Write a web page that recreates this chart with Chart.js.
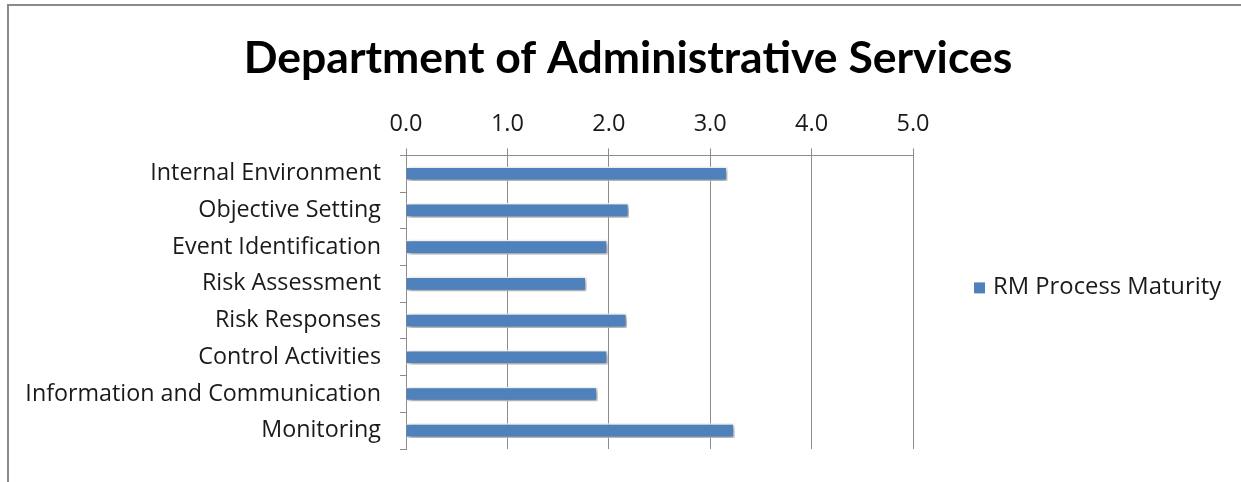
<!DOCTYPE html>
<html>
<head>
<meta charset="utf-8">
<title>Department of Administrative Services</title>
<script src="https://cdn.jsdelivr.net/npm/chart.js@4/dist/chart.umd.min.js"></script>
<style>
  html, body { margin: 0; padding: 0; background: #fff; }
  #wrap { position: relative; width: 1241px; height: 482px; overflow: hidden; }
  #frame {
    position: absolute; left: 7px; top: 4px; right: -4px; bottom: -4px;
    border-top: 2px solid #8a8a8a; border-left: 2px solid #8a8a8a;
    pointer-events: none;
  }
  canvas { position: absolute; left: 0; top: 0; }
</style>
</head>
<body>
<div id="wrap">
  <canvas id="chartMaturity" width="1241" height="482"></canvas>
  <div id="frame"></div>
</div>
<script>
// RM process maturity scores per ERM component
const categories = [
  'Internal Environment',
  'Objective Setting',
  'Event Identification',
  'Risk Assessment',
  'Risk Responses',
  'Control Activities',
  'Information and Communication',
  'Monitoring'
];
const maturity = [3.17, 2.20, 1.99, 1.78, 2.18, 1.99, 1.89, 3.24];
const seriesName = 'RM Process Maturity';
const tickValues = [0, 1, 2, 3, 4, 5];

const BAR_BLUE = '#4f81bd';
const GRID_GRAY = '#8c8c8c';
const TEXT = '#1a1a1a';
const FONT = "'Open Sans', sans-serif";

// soft drop shadow under the bars
const barShadow = {
  id: 'barShadow',
  beforeDatasetsDraw(chart) {
    const ctx = chart.ctx;
    ctx.save();
    ctx.shadowColor = 'rgba(0, 0, 0, 0.45)';
    ctx.shadowBlur = 5;
    ctx.shadowOffsetX = 2;
    ctx.shadowOffsetY = 2;
  },
  afterDatasetsDraw(chart) {
    chart.ctx.restore();
  }
};

// legend drawn in the empty band right of the plot
const sideLegend = {
  id: 'sideLegend',
  afterDraw(chart) {
    const ctx = chart.ctx;
    const ds = chart.data.datasets[0];
    const x = chart.chartArea.right + 61;
    const y = chart.chartArea.top + 132;
    ctx.save();
    ctx.fillStyle = ds.backgroundColor;
    ctx.fillRect(x, y - 5, 11, 11);
    ctx.fillStyle = TEXT;
    ctx.font = '23.8px ' + FONT;
    ctx.textBaseline = 'middle';
    ctx.fillText(ds.label, x + 19, y);
    ctx.restore();
  }
};

new Chart(document.getElementById('chartMaturity'), {
  type: 'bar',
  data: {
    labels: categories,
    datasets: [{
      label: seriesName,
      data: maturity,
      backgroundColor: BAR_BLUE,
      borderColor: '#ffffff',
      borderWidth: 1.5,
      barPercentage: 0.4,
      categoryPercentage: 1
    }]
  },
  options: {
    indexAxis: 'y',
    responsive: false,
    animation: false,
    layout: { padding: { left: 16, right: 1, top: 0, bottom: 26 } },
    plugins: {
      legend: { display: false },
      tooltip: { enabled: false },
      title: {
        display: true,
        text: 'Department of Administrative Services',
        color: '#000',
        font: { family: 'Lato', size: 44.5, weight: 'bold' },
        padding: { top: 32, bottom: 6 }
      }
    },
    scales: {
      x: {
        position: 'top',
        min: 0,
        max: 5,
        afterBuildTicks(scale) {
          scale.ticks = tickValues.map(v => ({ value: v }));
        },
        afterFit(scale) { scale.height = 64; },
        ticks: {
          color: TEXT,
          font: { family: FONT, size: 23.5 },
          padding: 10,
          callback: v => Number(v).toFixed(1)
        },
        grid: { color: GRID_GRAY, lineWidth: 1, tickLength: 7 },
        border: { color: GRID_GRAY, width: 1 }
      },
      y: {
        afterFit(scale) { scale.width = 390; },
        ticks: {
          color: TEXT,
          font: { family: FONT, size: 23.3 },
          padding: 19
        },
        grid: {
          offset: true,
          drawOnChartArea: false,
          color: GRID_GRAY,
          tickLength: 6
        },
        border: { color: GRID_GRAY, width: 1 }
      },
      // empty band on the right that holds the legend
      legendBand: {
        axis: 'y',
        type: 'linear',
        position: 'right',
        afterFit(scale) { scale.width = 327; },
        ticks: { display: false },
        grid: { display: false },
        border: { display: false }
      }
    }
  },
  plugins: [barShadow, sideLegend]
});
</script>
</body>
</html>
